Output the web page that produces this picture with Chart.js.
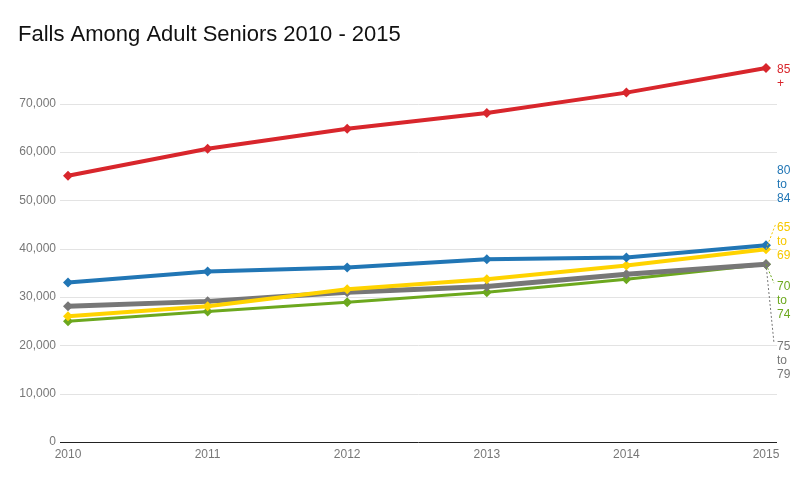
<!DOCTYPE html>
<html>
<head>
<meta charset="utf-8">
<script src="https://cdn.jsdelivr.net/npm/chart.js@4.4.1/dist/chart.umd.min.js"></script>
<style>
  html, body { margin: 0; padding: 0; background: #fff; }
  #wrap { width: 812px; height: 488px; }
</style>
</head>
<body>
<div id="wrap"><canvas id="myLine" width="812" height="488"></canvas></div>
<script>
var years = ['2010', '2011', '2012', '2013', '2014', '2015'];
var age85 = [55100, 60700, 64800, 68100, 72300, 77400];
var age80to84 = [33000, 35300, 36100, 37800, 38200, 40700];
var age65to69 = [26000, 28100, 31600, 33700, 36500, 39900];
var age75to79 = [28100, 29100, 31000, 32200, 34700, 36800];
var age70to74 = [25000, 27000, 28900, 31000, 33700, 36800];
var yTicks = [0, 10000, 20000, 30000, 40000, 50000, 60000, 70000];

var ctx = document.getElementById('myLine').getContext('2d');
Chart.defaults.font.family = 'Arial, "Liberation Sans", sans-serif';

function series(label, data, color, width) {
    return {
        label: label,
        data: data,
        borderColor: color,
        backgroundColor: color,
        borderWidth: width,
        pointStyle: 'rectRot',
        pointRadius: 5,
        pointHoverRadius: 5,
        pointBorderWidth: 0,
        fill: false,
        tension: 0
    };
}

// end labels: lines of text, offset of first line from last point, dotted leader or not
var endLabels = {
    '85 +':     { lines: ['85', '+'], dy: 2, leader: false, color: '#d8262c' },
    '80 to 84': { lines: ['80', 'to', '84'], dy: -75, leader: false, color: '#2176b5' },
    '65 to 69': { lines: ['65', 'to', '69'], dy: -21, leader: true, color: '#f6c800' },
    '70 to 74': { lines: ['70', 'to', '74'], dy: 23, leader: true, color: '#6ca81e' },
    '75 to 79': { lines: ['75', 'to', '79'], dy: 83, leader: true, color: '#777777' }
};

var gridPlugin = {
    id: 'grid',
    beforeDatasetsDraw: function (chart) {
        var c = chart.ctx, a = chart.chartArea, y = chart.scales.y;
        c.save();
        c.lineWidth = 1;
        yTicks.forEach(function (v) {
            var py = Math.round(y.getPixelForValue(v)) + 0.5;
            c.strokeStyle = v === 0 ? '#222222' : '#e3e3e3';
            c.beginPath();
            c.moveTo(a.left - 8, py);
            c.lineTo(a.right + 11, py);
            c.stroke();
        });
        c.restore();
    }
};

var labelPlugin = {
    id: 'endLabels',
    afterDatasetsDraw: function (chart) {
        var c = chart.ctx, a = chart.chartArea;
        c.save();
        c.font = '12px Arial, "Liberation Sans", sans-serif';
        c.textBaseline = 'middle';
        c.textAlign = 'left';
        chart.data.datasets.forEach(function (ds, i) {
            var info = endLabels[ds.label];
            var meta = chart.getDatasetMeta(i);
            var pt = meta.data[meta.data.length - 1];
            var tx = a.right + 11;
            var ty = pt.y + info.dy;
            if (info.leader) {
                c.strokeStyle = info.color;
                c.lineWidth = 1;
                c.setLineDash([2, 2]);
                c.beginPath();
                c.moveTo(pt.x, pt.y);
                if (info.dy < 0) c.lineTo(tx - 1, ty - 5);
                else c.lineTo(tx - 3, ty - 4);
                c.stroke();
                c.setLineDash([]);
            }
            c.fillStyle = info.color;
            info.lines.forEach(function (t, k) {
                c.fillText(t, tx, ty + k * 14);
            });
        });
        c.restore();
    }
};

var myLineChart = new Chart(ctx, {
    type: 'line',
    data: {
        labels: years,
        datasets: [
            series('85 +', age85, '#d8262c', 4),
            series('80 to 84', age80to84, '#2176b5', 4),
            series('65 to 69', age65to69, '#ffd300', 4),
            series('75 to 79', age75to79, '#777777', 5),
            series('70 to 74', age70to74, '#6ca81e', 3)
        ]
    },
    options: {
        responsive: false,
        animation: false,
        layout: { padding: { left: 18, right: 46, top: 0, bottom: 0 } },
        plugins: {
            legend: { display: false },
            tooltip: { enabled: false },
            title: {
                display: true,
                text: 'Falls Among Adult Seniors 2010 - 2015',
                align: 'start',
                color: '#111111',
                font: { size: 22, weight: 'normal' },
                padding: { top: 22, bottom: 7 }
            }
        },
        scales: {
            x: {
                offset: false,
                grid: { display: false, drawTicks: false },
                border: { display: false },
                ticks: {
                    color: '#777777',
                    font: { size: 12 },
                    padding: 5,
                    maxRotation: 0
                },
                afterFit: function (s) { s.height = 46; }
            },
            y: {
                min: 0,
                max: 80000,
                grid: { display: false, drawTicks: false },
                border: { display: false },
                ticks: {
                    stepSize: 10000,
                    color: '#777777',
                    font: { size: 12 },
                    padding: 12,
                    callback: function (v) {
                        return v >= 80000 ? '' : v.toLocaleString('en-US');
                    }
                },
                afterFit: function (s) { s.width = 50; }
            }
        }
    },
    plugins: [gridPlugin, labelPlugin]
});
</script>
</body>
</html>
